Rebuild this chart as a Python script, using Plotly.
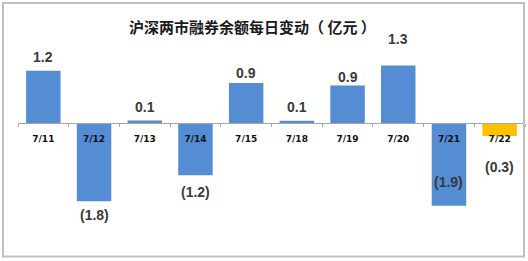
import plotly.graph_objects as go

# ---- data ----
dates = ["7/11", "7/12", "7/13", "7/14", "7/15", "7/18", "7/19", "7/20", "7/21", "7/22"]
changes = [1.2, -1.8, 0.06, -1.2, 0.92, 0.05, 0.86, 1.32, -1.9, -0.3]
title_text = "沪深两市融券余额每日变动（ 亿元 ）"

# ---- style ----
W, H = 528, 261
blue = "#548DD4"
gold = "#FFC000"
bar_colors = [blue] * (len(dates) - 1) + [gold]
# label offset from bar end, px (positive = away from zero)
label_offsets = [14, 14, 13, 17, 10, 14, 9, 27, -24, 31]

zero_px = 123.0           # zero line y in px from top
px_per_unit = 43.5
ymax = zero_px / px_per_unit
ymin = -(H - zero_px) / px_per_unit
xpos = (0 - ymin) / (ymax - ymin)

def fmt(v):
    s = f"{abs(v):.1f}"
    return f"({s})" if v < 0 else s

fig = go.Figure()
fig.add_trace(go.Bar(
    x=dates, y=changes,
    marker=dict(color=bar_colors, line=dict(width=0)),
    width=0.68,
    hoverinfo="x+y",
))

annotations = []
for d, v, off in zip(dates, changes, label_offsets):
    sign = 1 if v >= 0 else -1
    annotations.append(dict(
        x=d, y=v, xref="x", yref="y",
        text=fmt(v), showarrow=False,
        yshift=sign * off, yanchor="middle", xanchor="center",
        font=dict(family="Liberation Sans, Arial", size=14, color="#3a3a3a", weight="bold"),
    ))

annotations.append(dict(
    x=252 / W, y=1 - 26.5 / H, xref="paper", yref="paper",
    text=f"<b>{title_text}</b>", showarrow=False,
    xanchor="center", yanchor="middle",
    font=dict(family="Noto Sans CJK SC", size=15, color="#1a1a1a"),
))

fig.update_layout(
    width=W, height=H,
    margin=dict(l=0, r=0, t=0, b=0),
    paper_bgcolor="white", plot_bgcolor="white",
    showlegend=False,
    annotations=annotations,
    xaxis=dict(
        domain=[18 / W, 525 / W],
        type="category",
        anchor="free", position=xpos,
        showline=True, linecolor="#a6a6a6", linewidth=1,
        ticks="outside", tickson="boundaries", ticklen=3, tickcolor="#a6a6a6",
        ticklabelstandoff=7,
        showgrid=False, zeroline=False,
        tickfont=dict(family="DejaVu Sans", size=9, color="#111111", weight="bold"),
        fixedrange=True,
    ),
    yaxis=dict(
        domain=[0, 1], range=[ymin, ymax],
        visible=False, showgrid=False, zeroline=False,
        fixedrange=True,
    ),
    shapes=[dict(
        type="rect", xref="paper", yref="paper",
        x0=3 / W, x1=524 / W, y0=1 - 256.5 / H, y1=1 - 3 / H,
        line=dict(color="#bfbfbf", width=2), fillcolor="rgba(0,0,0,0)",
        layer="above",
    )],
)

fig.write_html("out.html")
